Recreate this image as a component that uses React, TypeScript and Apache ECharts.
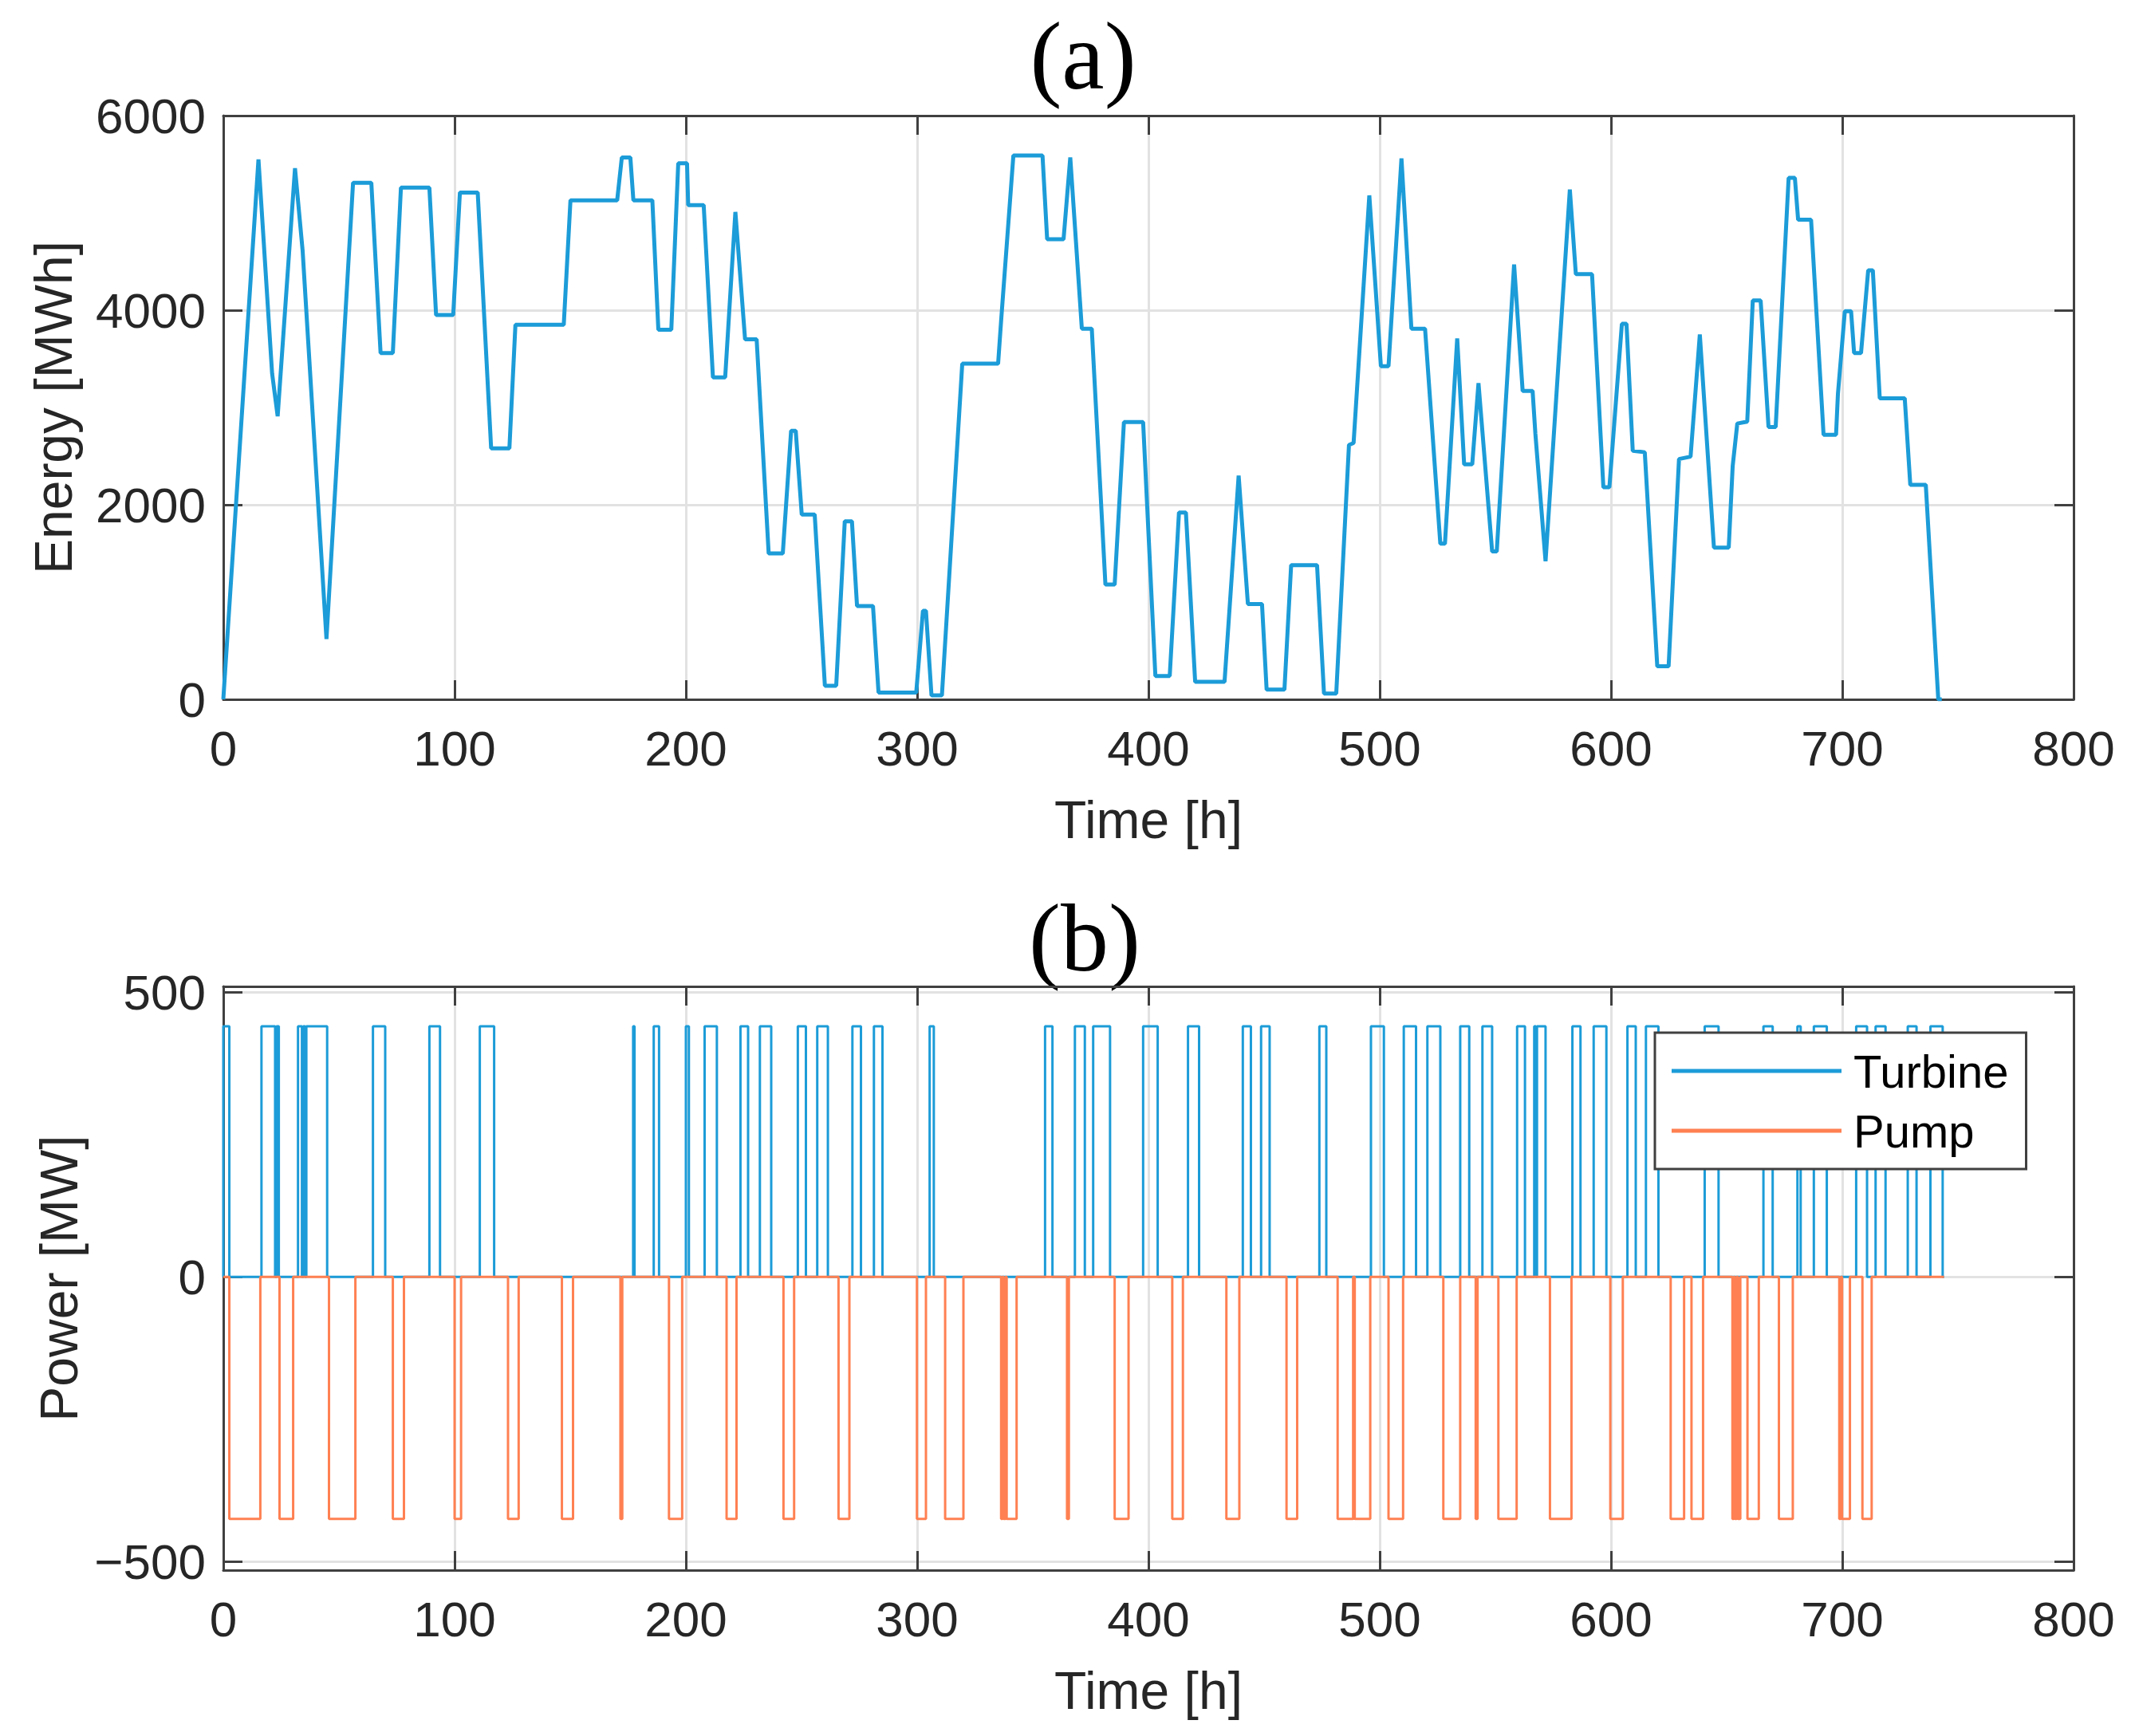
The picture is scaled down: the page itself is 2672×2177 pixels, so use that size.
import React, { useEffect, useRef } from "react";
import * as echarts from "echarts";

// (a) stored energy, breakpoints: [time h, energy MWh]
const ENERGY_POINTS: [number, number][] = [
  [0, 0], [15.2, 5550], [21.1, 3350], [23.5, 2910], [31, 5460], [34.3, 4610], [44.6, 620],
  [56.1, 5310], [64, 5310], [68, 3560], [73.3, 3560], [76.8, 5260], [89.1, 5260],
  [92, 3950], [99.4, 3950], [102.3, 5210], [110, 5210], [115.8, 2580], [123.7, 2580],
  [126.3, 3850], [147.2, 3850], [150.1, 5130], [170.3, 5130], [172.3, 5570], [176, 5570],
  [177.3, 5130], [185.5, 5130], [188.1, 3800], [193.7, 3800], [196.7, 5510], [200.5, 5510],
  [201, 5080], [207.7, 5080], [211.7, 3310], [217, 3310], [221.4, 5010], [225.6, 3700],
  [230.6, 3700], [235.8, 1500], [241.9, 1500], [245.5, 2760], [247.5, 2760], [250.1, 1900],
  [255.7, 1900], [260.1, 140], [265, 140], [268.7, 1830], [271.8, 1830], [274, 960],
  [280.9, 960], [283.3, 70], [299.6, 70], [302.5, 910], [303.8, 910], [306.2, 40],
  [310.7, 40], [319.5, 3450], [335, 3450], [336.3, 3890], [341.6, 5590], [354.2, 5590],
  [356.2, 4730], [363.3, 4730], [366.2, 5570], [371.2, 3810], [375.5, 3810], [381.4, 1180],
  [385.4, 1180], [389.4, 2850], [397.7, 2850], [403, 240], [409.2, 240], [413.2, 1920],
  [416.2, 1920], [420.2, 180], [432.9, 180], [439, 2300], [443, 980], [449.1, 980],
  [451.1, 100], [458.8, 100], [461.7, 1380], [472.9, 1380], [475.9, 60], [481.2, 60],
  [486.7, 2615], [488.7, 2635], [495.5, 5180], [500.5, 3425], [503.8, 3425], [509.4, 5560],
  [513.7, 3810], [519.6, 3810], [526.2, 1600], [528.2, 1600], [533.5, 3710], [536.5, 2415],
  [540, 2415], [542.7, 3250], [548.6, 1520], [550.6, 1520], [558.1, 4470], [561.8, 3170],
  [566.1, 3170], [567.3, 2730], [571.7, 1420], [582.2, 5240], [584.8, 4370], [591.8, 4370],
  [596.7, 2180], [599.3, 2180], [604.7, 3860], [606.7, 3860], [609.4, 2555], [614.6, 2540],
  [620, 340], [624.9, 340], [629.4, 2470], [634.4, 2495], [638.4, 3750], [644.5, 1560],
  [650.9, 1560], [652.6, 2395], [654.6, 2835], [658.9, 2855], [661.3, 4100], [664.7, 4100],
  [668.1, 2800], [671.2, 2800], [676.8, 5360], [679.5, 5360], [680.9, 4930], [686.5, 4930],
  [691.9, 2720], [697.3, 2720], [698.1, 3135], [701.1, 3990], [703.8, 3990], [705.1, 3560],
  [708.1, 3560], [711.2, 4410], [713.2, 4410], [716.2, 3095], [727, 3095], [729.4, 2205],
  [736.1, 2205], [741.5, 0], [743, 0],
];

// (b) on/off periods [start h, end h]
const TURBINE_ON: [number, number][] = [
  [0, 2.6], [16.5, 22.4], [23.0, 24.0], [32.3, 34.0], [34.6, 35.4], [35.9, 44.9],
  [64.7, 70], [89.1, 93.7], [110.9, 117.1], [177.2, 177.8], [186.1, 188.4], [200, 201.3],
  [208.1, 213.4], [223.6, 226.9], [232, 236.9], [248.4, 251.9], [256.8, 261.4],
  [272, 275.7], [281.3, 285], [305.4, 307.2], [355.3, 358.5], [368.2, 372.5],
  [376.1, 383.4], [397.7, 404], [417.1, 421.9], [440.8, 444.3], [448.7, 452.4],
  [473.9, 476.9], [496.2, 501.8], [510.4, 515.7], [520.6, 526.2], [534.8, 538.7],
  [544.4, 548.6], [559.4, 562.8], [566.8, 567.5], [568, 571.7], [583.3, 586.8],
  [592.5, 598], [607.1, 610.7], [615.1, 620.5], [640.5, 646.5], [665.9, 669.9],
  [680.6, 682], [687.7, 693.3], [706, 710.7], [714.4, 718.7], [728.3, 732.1], [738.1, 743.4],
];

const PUMP_ON: [number, number][] = [
  [2.6, 16], [24.3, 30.2], [45.7, 57.1], [73.3, 78.1], [100, 102.8], [123.1, 127.7],
  [146.4, 151.2], [171.7, 172.5], [192.7, 198.4], [217.6, 221.9], [242.2, 246.8],
  [266, 270.7], [299.9, 303.8], [312.1, 320], [336.3, 336.9], [337.4, 338.2], [338.7, 343],
  [364.8, 365.6], [385.4, 391.4], [410.3, 414.9], [433.7, 439.3], [459.7, 464.3],
  [481.8, 488.5], [489.2, 495.9], [503.8, 510.1], [527.5, 534.8], [541.5, 542.3],
  [551.3, 559.2], [573.6, 582.9], [599.7, 605.1], [625.8, 631.6], [634.8, 639.8],
  [652.5, 653.1], [653.6, 654.3], [654.9, 655.9], [659, 663.9], [672.6, 678.6],
  [698.7, 699.4], [699.9, 703.3], [708.7, 712.7],
];

const TURBINE_MW = 440;
const PUMP_MW = -425;
const SERIES_END = 744;
const POWER_TICKS = [-500, 0, 500];

const BLUE = "#1c9cd8";
const ORANGE = "#ff8052";
const INK = "#262626";
const BOX = "#404040";
const GRIDLINE = "#e2e2e2";
const SANS = "'Liberation Sans', Arial, Helvetica, sans-serif";
const SERIF = "'Liberation Serif', 'Times New Roman', serif";

const toSteps = (periods: [number, number][], level: number) => {
  const pts: [number, number][] = [[0, 0]];
  periods.forEach(([s, e]) => {
    pts.push([s, 0], [s, level], [e, level], [e, 0]);
  });
  pts.push([SERIES_END, 0]);
  return pts;
};

const boxLine = { show: true, onZero: false, lineStyle: { color: BOX, width: 3 } };
const tickStyle = { show: true, inside: true, length: 24, lineStyle: { color: BOX, width: 3 } };
const labelStyle = { fontFamily: SANS, fontSize: 62, color: INK };
const nameStyle = { fontFamily: SANS, fontSize: 66, color: INK };
const plain = (v: number) => String(v).replace("-", "\u2212");

const timeAxis = (gridIndex: number) => [
  {
    type: "value", gridIndex, position: "bottom", min: 0, max: 800, interval: 100,
    axisLine: boxLine, axisTick: tickStyle,
    axisLabel: { ...labelStyle, margin: 30, formatter: plain },
    splitLine: { show: true, lineStyle: { color: GRIDLINE, width: 3 } },
    name: "Time [h]", nameLocation: "middle", nameGap: 118, nameTextStyle: nameStyle,
  },
  {
    type: "value", gridIndex, position: "top", min: 0, max: 800, interval: 100,
    axisLine: boxLine, axisTick: tickStyle, axisLabel: { show: false },
    splitLine: { show: false },
  },
];

const App = () => {
  const chartRef = useRef<HTMLDivElement>(null);

  useEffect(() => {
    if (!chartRef.current) return;
    const chart = echarts.init(chartRef.current, undefined, { renderer: "svg" });

    const options = {
      animation: false,
      backgroundColor: "#ffffff",
      grid: [
        { left: 280, top: 145, width: 2320, height: 732 },
        { left: 280, top: 1237, width: 2320, height: 732 },
      ],
      graphic: [
        {
          type: "text", x: 1358, y: 70,
          style: { text: "(a)", fontSize: 120, fontFamily: SERIF, fill: "#000", textAlign: "center", textVerticalAlign: "middle" },
        },
        {
          type: "text", x: 1360, y: 1176,
          style: { text: "(b)", fontSize: 120, fontFamily: SERIF, fill: "#000", textAlign: "center", textVerticalAlign: "middle" },
        },
      ],
      legend: {
        data: ["Turbine", "Pump"],
        orient: "vertical",
        left: 2075,
        top: 1295,
        padding: [18, 22, 18, 21],
        icon: "rect",
        itemWidth: 213,
        itemHeight: 5,
        itemGap: 15,
        backgroundColor: "#ffffff",
        borderColor: BOX,
        borderWidth: 3,
        textStyle: { fontFamily: SANS, fontSize: 58, color: "#000", lineHeight: 60, padding: [0, 0, 0, 10] },
      },
      xAxis: [...timeAxis(0), ...timeAxis(1)],
      yAxis: [
        {
          type: "value", gridIndex: 0, position: "left", min: 0, max: 6000, interval: 2000,
          axisLine: boxLine, axisTick: tickStyle,
          axisLabel: { ...labelStyle, margin: 22, formatter: plain },
          splitLine: { show: true, lineStyle: { color: GRIDLINE, width: 3 } },
          name: "Energy [MWh]", nameLocation: "middle", nameRotate: 90, nameGap: 180, nameTextStyle: nameStyle,
        },
        {
          type: "value", gridIndex: 0, position: "right", min: 0, max: 6000, interval: 2000,
          axisLine: boxLine, axisTick: tickStyle, axisLabel: { show: false }, splitLine: { show: false },
        },
        {
          type: "value", gridIndex: 1, position: "left", min: -515, max: 510,
          axisLine: boxLine,
          axisTick: { ...tickStyle, customValues: POWER_TICKS },
          axisLabel: { ...labelStyle, margin: 22, customValues: POWER_TICKS, formatter: plain },
          splitLine: { show: true, lineStyle: { color: GRIDLINE, width: 3 } },
          name: "Power [MW]", nameLocation: "middle", nameRotate: 90, nameGap: 168, nameTextStyle: nameStyle,
        },
        {
          type: "value", gridIndex: 1, position: "right", min: -515, max: 510,
          axisLine: boxLine,
          axisTick: { ...tickStyle, customValues: POWER_TICKS },
          axisLabel: { show: false }, splitLine: { show: false },
        },
      ],
      series: [
        {
          name: "Energy", type: "line", xAxisIndex: 0, yAxisIndex: 0,
          data: ENERGY_POINTS, showSymbol: false, symbol: "none",
          color: BLUE, lineStyle: { color: BLUE, width: 5 },
        },
        {
          name: "Turbine", type: "line", xAxisIndex: 2, yAxisIndex: 2,
          data: toSteps(TURBINE_ON, TURBINE_MW), showSymbol: false, symbol: "none",
          color: BLUE, lineStyle: { color: BLUE, width: 3 },
        },
        {
          name: "Pump", type: "line", xAxisIndex: 2, yAxisIndex: 2,
          data: toSteps(PUMP_ON, PUMP_MW), showSymbol: false, symbol: "none",
          color: ORANGE, lineStyle: { color: ORANGE, width: 3 },
        },
      ],
    };

    chart.setOption(options);

    return () => {
      chart.dispose();
    };
  }, []);

  return (
    <div
      ref={chartRef}
      style={{ position: "fixed", left: 0, top: 0, width: "2672px", height: "2177px", background: "#fff" }}
    />
  );
};

export default App;
